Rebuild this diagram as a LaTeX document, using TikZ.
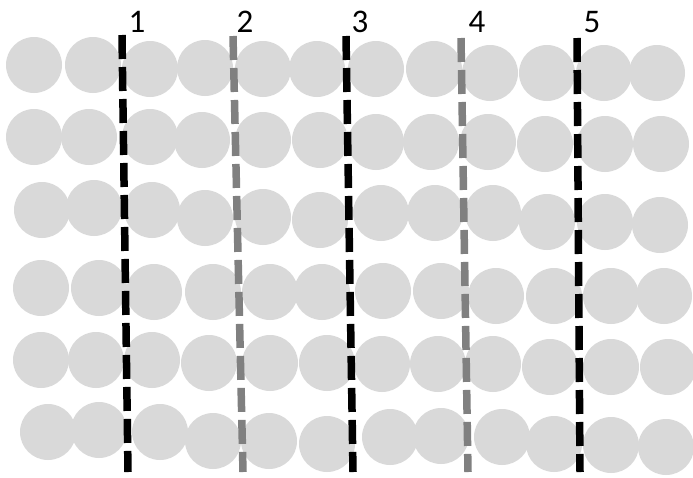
\documentclass[tikz,border=0pt]{standalone}
\usepackage{fontspec}
\setmainfont{Carlito}
\definecolor{dotgray}{HTML}{D9D9D9}
\definecolor{midgray}{HTML}{808080}
\tikzset{
  dot/.style={circle, fill=dotgray, draw=none, minimum size=56pt, inner sep=0pt},
  cutline/.style={line width=7.5pt, dash pattern=on 24pt off 8pt},
  lbl/.style={font=\fontsize{33}{33}\selectfont, inner sep=0pt, text=black}
}
\begin{document}
\begin{tikzpicture}[x=1pt,y=-1pt]
\useasboundingbox (0,0) rectangle (693,477);
\foreach \x/\y [count=\i] in {34/65,93/65,150/69,205/68,263/69,317/69,376/69,434/69,490/73,547/73,604/73,657/73}
  \node[dot] (r1c\i) at (\x,\y) {};
\foreach \x/\y [count=\i] in {34/137,89/137,150/137,202/140,263/140,320/140,376/142,431/142,488/142,545/144,605/144,661/144}
  \node[dot] (r2c\i) at (\x,\y) {};
\foreach \x/\y [count=\i] in {42/210,94/208,152/210,205/218,263/217,320/220,381/213,435/213,493/213,547/222,605/222,660/225}
  \node[dot] (r3c\i) at (\x,\y) {};
\foreach \x/\y [count=\i] in {41/288,99/288,154/292,213/292,270/292,322/292,383/291,441/291,496/296,554/296,611/296,664/296}
  \node[dot] (r4c\i) at (\x,\y) {};
\foreach \x/\y [count=\i] in {41/360,96/360,152/360,209/363,270/363,327/363,382/364,438/364,493/364,550/367,611/367,668/367}
  \node[dot] (r5c\i) at (\x,\y) {};
\foreach \x/\y [count=\i] in {48/432,99/430,160/432,213/441,269/441,327/444,390/437,441/436,502/437,554/444,611/445,666/447}
  \node[dot] (r6c\i) at (\x,\y) {};
% dashed lines
\coordinate (t1) at (122,35); \coordinate (b1) at (128,472);
\coordinate (t2) at (233,36); \coordinate (b2) at (243,472);
\coordinate (t3) at (346,36); \coordinate (b3) at (353,472);
\coordinate (t4) at (461,38); \coordinate (b4) at (468,472);
\coordinate (t5) at (577,38); \coordinate (b5) at (580,472);
\draw[cutline, black] (t1) -- (b1);
\draw[cutline, midgray] (t2) -- (b2);
\draw[cutline, black] (t3) -- (b3);
\draw[cutline, midgray] (t4) -- (b4);
\draw[cutline, black] (t5) -- (b5);
% labels
\node[lbl] (l1) at (137,22) {1};
\node[lbl] (l2) at (245,22) {2};
\node[lbl] (l3) at (360,22) {3};
\node[lbl] (l4) at (477,22) {4};
\node[lbl] (l5) at (592,22) {5};
\end{tikzpicture}
\end{document}
